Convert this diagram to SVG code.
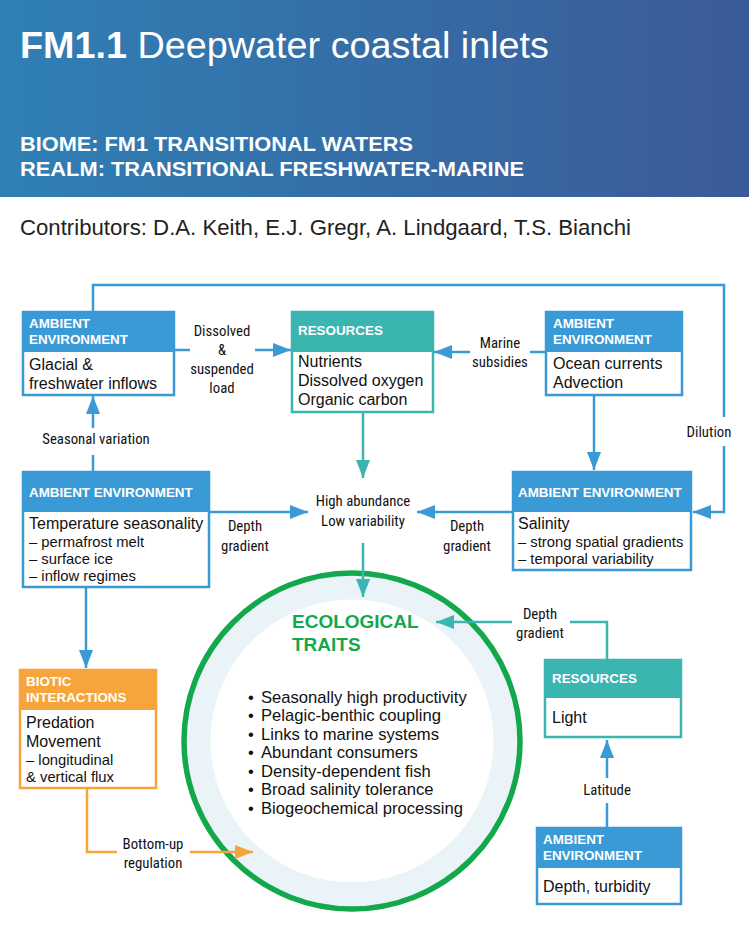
<svg xmlns="http://www.w3.org/2000/svg" width="749" height="926" viewBox="0 0 749 926">
<defs>
<linearGradient id="hdr" x1="0" y1="0" x2="1" y2="0">
<stop offset="0" stop-color="#2f80b5"/>
<stop offset="1" stop-color="#3b5a98"/>
</linearGradient>
<marker id="ab" markerUnits="userSpaceOnUse" markerWidth="20" markerHeight="16" refX="18" refY="7" orient="auto"><path d="M0,0 L18,7 L0,14 z" fill="#3a9ad6"/></marker>
<marker id="at" markerUnits="userSpaceOnUse" markerWidth="20" markerHeight="16" refX="18" refY="7" orient="auto"><path d="M0,0 L18,7 L0,14 z" fill="#3ab5b0"/></marker>
<marker id="ao" markerUnits="userSpaceOnUse" markerWidth="20" markerHeight="16" refX="18" refY="7" orient="auto"><path d="M0,0 L18,7 L0,14 z" fill="#f5a53c"/></marker>
</defs>
<style>
.hd{font-family:"Liberation Sans",Arial,sans-serif;font-weight:bold;font-size:13.4px;fill:#fff}
.bd{font-family:"Liberation Sans",Arial,sans-serif;font-size:16px;fill:#111}
.sb{font-family:"Liberation Sans",Arial,sans-serif;font-size:14.8px;fill:#111}
.lb{font-family:"Liberation Sans Narrow","Roboto Condensed","Liberation Sans",sans-serif;font-size:14.8px;fill:#111;text-anchor:middle}
.bl{fill:#3a9ad6}.tl{fill:#3ab5b0}.or{fill:#f5a53c}
.bbl{fill:#fff;stroke:#3a9ad6;stroke-width:2.5}
.btl{fill:#fff;stroke:#3ab5b0;stroke-width:2.5}
.bor{fill:#fff;stroke:#f5a53c;stroke-width:2.5}
.cb{fill:none;stroke:#3a9ad6;stroke-width:2.5}
.ct{fill:none;stroke:#3ab5b0;stroke-width:2.5}
.co{fill:none;stroke:#f5a53c;stroke-width:2.5}
.tr{font-family:"Liberation Sans",Arial,sans-serif;font-size:16.6px;fill:#111}
</style>
<rect x="0" y="0" width="749" height="197" fill="url(#hdr)"/>
<text x="20" y="58" font-family="Liberation Sans,Arial,sans-serif" font-size="37" fill="#fff" textLength="529" lengthAdjust="spacingAndGlyphs"><tspan font-weight="bold">FM1.1</tspan> Deepwater coastal inlets</text>
<text x="20" y="151" font-family="Liberation Sans,Arial,sans-serif" font-size="20" font-weight="bold" fill="#fff" textLength="393" lengthAdjust="spacingAndGlyphs">BIOME: FM1 TRANSITIONAL WATERS</text>
<text x="20" y="176" font-family="Liberation Sans,Arial,sans-serif" font-size="20" font-weight="bold" fill="#fff" textLength="504" lengthAdjust="spacingAndGlyphs">REALM: TRANSITIONAL FRESHWATER-MARINE</text>
<text x="20" y="235" font-family="Liberation Sans,Arial,sans-serif" font-size="21.5" fill="#222" textLength="611" lengthAdjust="spacingAndGlyphs">Contributors: D.A. Keith, E.J. Gregr, A. Lindgaard, T.S. Bianchi</text>

<g id="traits">
<circle cx="352" cy="741" r="154" fill="none" stroke="#eaf4f8" stroke-width="25"/>
<circle cx="352" cy="741" r="168" fill="none" stroke="#12a84b" stroke-width="5.5"/>
<text x="292" y="628" font-family="Liberation Sans,Arial,sans-serif" font-size="19" font-weight="bold" fill="#12a84b">ECOLOGICAL</text>
<text x="292" y="651" font-family="Liberation Sans,Arial,sans-serif" font-size="19" font-weight="bold" fill="#12a84b">TRAITS</text>
<text class="tr" x="248" y="703">•</text><text class="tr" x="261" y="703">Seasonally high productivity</text>
<text class="tr" x="248" y="721">•</text><text class="tr" x="261" y="721">Pelagic-benthic coupling</text>
<text class="tr" x="248" y="740">•</text><text class="tr" x="261" y="740">Links to marine systems</text>
<text class="tr" x="248" y="758">•</text><text class="tr" x="261" y="758">Abundant consumers</text>
<text class="tr" x="248" y="777">•</text><text class="tr" x="261" y="777">Density-dependent fish</text>
<text class="tr" x="248" y="795">•</text><text class="tr" x="261" y="795">Broad salinity tolerance</text>
<text class="tr" x="248" y="814">•</text><text class="tr" x="261" y="814">Biogeochemical processing</text>
</g>

<g id="connectors">
<path class="cb" d="M93,311 V285 H724 V417"/>
<path class="cb" d="M724,446 V512 H693" marker-end="url(#ab)"/>
<path class="cb" d="M175,350 H190"/>
<path class="cb" d="M255,350 H291" marker-end="url(#ab)"/>
<path class="cb" d="M545,352 H530"/>
<path class="cb" d="M470,352 H434" marker-end="url(#ab)"/>
<path class="ct" d="M363,413 V478" marker-end="url(#at)"/>
<path class="ct" d="M363,543 V597" marker-end="url(#at)"/>
<path class="cb" d="M594,396 V470" marker-end="url(#ab)"/>
<path class="cb" d="M512,512 H417" marker-end="url(#ab)"/>
<path class="cb" d="M210,512 H308" marker-end="url(#ab)"/>
<path class="cb" d="M93,471 V455"/>
<path class="cb" d="M93,428 V396" marker-end="url(#ab)"/>
<path class="cb" d="M86,588 V668" marker-end="url(#ab)"/>
<path class="co" d="M87,789 V852 H117"/>
<path class="co" d="M190,852 H253" marker-end="url(#ao)"/>
<path class="ct" d="M607,659 V622 H570"/>
<path class="ct" d="M512,622 H436" marker-end="url(#at)"/>
<path class="cb" d="M607,827 V803"/>
<path class="cb" d="M607,778 V740" marker-end="url(#ab)"/>
<text class="lb" x="709" y="437">Dilution</text>
<text class="lb" x="222" y="336">Dissolved</text>
<text class="lb" x="222" y="355">&amp;</text>
<text class="lb" x="222" y="374">suspended</text>
<text class="lb" x="222" y="393">load</text>
<text class="lb" x="500" y="348">Marine</text>
<text class="lb" x="500" y="367">subsidies</text>
<text class="lb" x="363" y="506">High abundance</text>
<text class="lb" x="363" y="526">Low variability</text>
<text class="lb" x="245" y="531">Depth</text>
<text class="lb" x="245" y="551">gradient</text>
<text class="lb" x="467" y="531">Depth</text>
<text class="lb" x="467" y="551">gradient</text>
<text class="lb" x="96" y="444">Seasonal variation</text>
<text class="lb" x="153" y="849">Bottom-up</text>
<text class="lb" x="153" y="868">regulation</text>
<text class="lb" x="540" y="619">Depth</text>
<text class="lb" x="540" y="638">gradient</text>
<text class="lb" x="607" y="795">Latitude</text>
</g>

<g id="glacial">
<rect class="bbl" x="23" y="312" width="151" height="83"/>
<rect class="bl" x="22" y="311" width="153" height="41"/>
<text class="hd" x="29" y="328">AMBIENT</text>
<text class="hd" x="29" y="344">ENVIRONMENT</text>
<text class="bd" x="29" y="370">Glacial &amp;</text>
<text class="bd" x="29" y="389">freshwater inflows</text>
</g>

<g id="resources">
<rect class="btl" x="292" y="312" width="141" height="100"/>
<rect class="tl" x="291" y="311" width="143" height="41"/>
<text class="hd" x="298" y="335">RESOURCES</text>
<text class="bd" x="298" y="367">Nutrients</text>
<text class="bd" x="298" y="386">Dissolved oxygen</text>
<text class="bd" x="298" y="405">Organic carbon</text>
</g>

<g id="ocean">
<rect class="bbl" x="546" y="312" width="136" height="83"/>
<rect class="bl" x="545" y="311" width="138" height="41"/>
<text class="hd" x="553" y="328">AMBIENT</text>
<text class="hd" x="553" y="344">ENVIRONMENT</text>
<text class="bd" x="553" y="369">Ocean currents</text>
<text class="bd" x="553" y="388">Advection</text>
</g>

<g id="temperature">
<rect class="bbl" x="23" y="472" width="186" height="115"/>
<rect class="bl" x="22" y="471" width="188" height="41"/>
<text class="hd" x="29" y="497">AMBIENT ENVIRONMENT</text>
<text class="bd" x="29" y="529">Temperature seasonality</text>
<text class="sb" x="29" y="547">– permafrost melt</text>
<text class="sb" x="29" y="564">– surface ice</text>
<text class="sb" x="29" y="581">– inflow regimes</text>
</g>

<g id="salinity">
<rect class="bbl" x="513" y="472" width="178" height="98"/>
<rect class="bl" x="512" y="471" width="180" height="41"/>
<text class="hd" x="518" y="497">AMBIENT ENVIRONMENT</text>
<text class="bd" x="518" y="529">Salinity</text>
<text class="sb" x="518" y="547">– strong spatial gradients</text>
<text class="sb" x="518" y="564">– temporal variability</text>
</g>

<g id="biotic">
<rect class="bor" x="20" y="670" width="136" height="118"/>
<rect class="or" x="19" y="669" width="138" height="41"/>
<text class="hd" x="26" y="686">BIOTIC</text>
<text class="hd" x="26" y="702">INTERACTIONS</text>
<text class="bd" x="26" y="728">Predation</text>
<text class="bd" x="26" y="747">Movement</text>
<text class="sb" x="26" y="765">– longitudinal</text>
<text class="sb" x="26" y="782">&amp; vertical flux</text>
</g>

<g id="light">
<rect class="btl" x="545" y="660" width="136" height="77"/>
<rect class="tl" x="544" y="659" width="138" height="39"/>
<text class="hd" x="552" y="683">RESOURCES</text>
<text class="bd" x="552" y="723">Light</text>
</g>

<g id="depth">
<rect class="bbl" x="537" y="828" width="144" height="76"/>
<rect class="bl" x="536" y="827" width="146" height="41"/>
<text class="hd" x="543" y="844">AMBIENT</text>
<text class="hd" x="543" y="860">ENVIRONMENT</text>
<text class="bd" x="543" y="892">Depth, turbidity</text>
</g>
</svg>
